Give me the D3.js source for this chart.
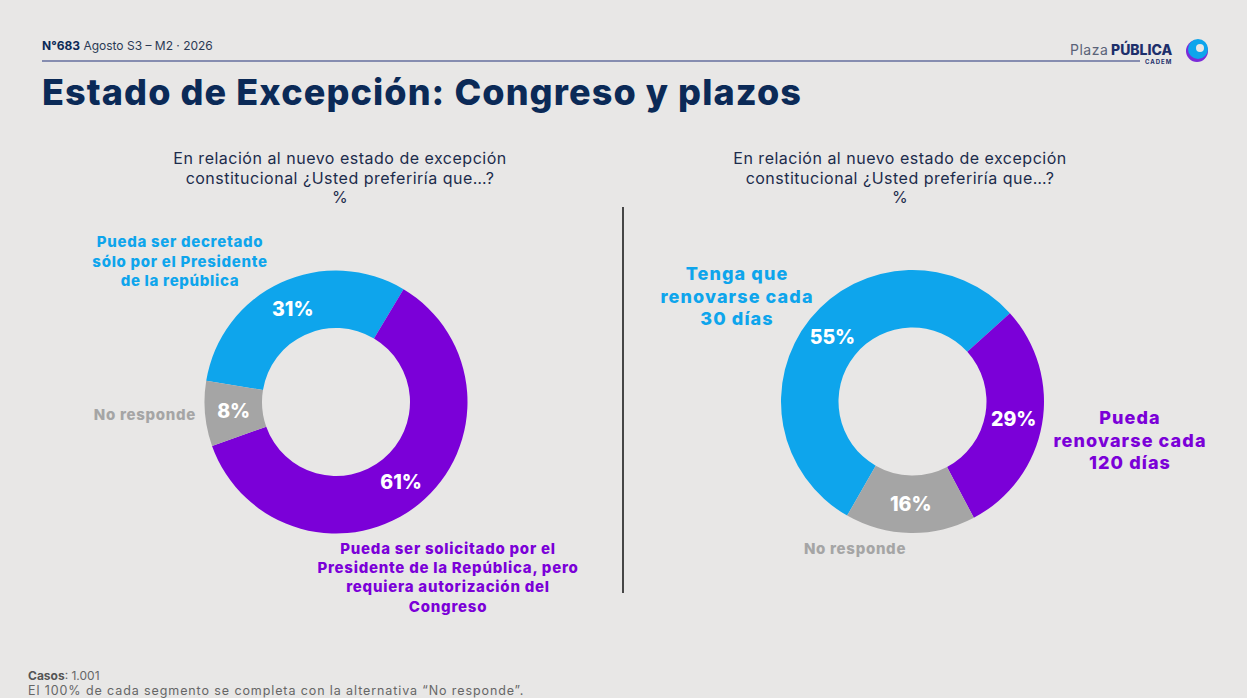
<!DOCTYPE html>
<html>
<head>
<meta charset="utf-8">
<script src="https://cdn.jsdelivr.net/npm/d3@7"></script>
<style>
html,body{margin:0;padding:0;background:#e8e7e6;}
svg{display:block;}
text{font-family:Inter,"Open Sans",sans-serif;}
</style>
</head>
<body>
<svg id="chart" width="1247" height="698"></svg>
<script>
// ---- Data ----
const leftCategories = ["Pueda ser decretado sólo por el Presidente de la república", "Pueda ser solicitado por el Presidente de la República, pero requiera autorización del Congreso", "No responde"];
const leftValues = [31, 61, 8];
const rightCategories = ["Tenga que renovarse cada 30 días", "Pueda renovarse cada 120 días", "No responde"];
const rightValues = [55, 29, 16];
const seriesColors = ["#0ea5ec", "#7b00d8", "#a5a5a5"];
const questionLines = ["En relación al nuevo estado de excepción", "constitucional ¿Usted preferiría que…?", "%"];

const svg = d3.select("#chart");
const navy = "#0b2a57";

// ---- Header ----
const hdr = svg.append("text").attr("x", 42).attr("y", 50).attr("font-size", 12).attr("fill", "#2b3a55");
hdr.append("tspan").attr("font-weight", 700).attr("fill", navy).text("N°683");
hdr.append("tspan").text(" Agosto S3 – M2 · 2026");

svg.append("line").attr("x1", 42).attr("x2", 1140).attr("y1", 61).attr("y2", 61)
  .attr("stroke", "#24347a").attr("stroke-width", 1.2);

svg.append("text").attr("x", 42).attr("y", 105).attr("font-size", 36).attr("font-weight", 800)
  .attr("fill", navy).attr("letter-spacing", 1.1).text("Estado de Excepción: Congreso y plazos");

// logo
const logo = svg.append("g");
logo.append("text").attr("x", 1070).attr("y", 55).attr("font-size", 14).attr("fill", "#5a6378").attr("letter-spacing", 0.5).text("Plaza");
logo.append("text").attr("x", 1111).attr("y", 55).attr("font-size", 14).attr("font-weight", 800).attr("fill", "#1d2f6b").text("PÚBLICA");
logo.append("text").attr("x", 1145).attr("y", 64).attr("font-size", 6).attr("font-weight", 700).attr("fill", "#1d2f6b").attr("letter-spacing", 1).text("CADEM");
logo.append("circle").attr("cx", 1197).attr("cy", 51).attr("r", 11).attr("fill", "#7b2bd8");
logo.append("circle").attr("cx", 1198).attr("cy", 49).attr("r", 10).attr("fill", "#0ea5ec");
logo.append("circle").attr("cx", 1200).attr("cy", 48).attr("r", 4).attr("fill", "#e8e7e6");

// divider
svg.append("line").attr("x1", 623).attr("x2", 623).attr("y1", 207).attr("y2", 593)
  .attr("stroke", "#111").attr("stroke-width", 1.5);

// ---- Donut drawer ----
function donut(cx, cy, values, startDeg, questionX) {
  const g = svg.append("g");
  const q = g.append("text").attr("text-anchor", "middle").attr("font-size", 16)
    .attr("letter-spacing", 0.5).attr("fill", "#1c2c4c");
  questionLines.forEach((l, i) => q.append("tspan").attr("x", questionX).attr("y", 164 + i * 19.5).text(l));

  const start = startDeg * Math.PI / 180;
  const pie = d3.pie().sort(null).value(d => d).startAngle(start).endAngle(start + 2 * Math.PI);
  const arc = d3.arc().innerRadius(74).outerRadius(131.5);
  const arcs = pie(values);
  const cg = g.append("g").attr("transform", `translate(${cx},${cy})`);
  cg.selectAll("path").data(arcs).join("path")
    .attr("d", arc).attr("fill", (d, i) => seriesColors[i]);
  cg.selectAll("text").data(arcs).join("text")
    .attr("transform", d => `translate(${arc.centroid(d)})`)
    .attr("text-anchor", "middle").attr("dy", "0.36em")
    .attr("font-size", 19.5).attr("font-weight", 800).attr("fill", "#fff")
    .text(d => d.data + "%");
}

function label(lines, x, y0, lh, size, color, ls) {
  const t = svg.append("text").attr("text-anchor", "middle").attr("font-size", size)
    .attr("font-weight", 800).attr("fill", color).attr("letter-spacing", ls);
  lines.forEach((l, i) => t.append("tspan").attr("x", x).attr("y", y0 + i * lh).text(l));
}

// left chart: blue starts at -80.7°
donut(336, 402, leftValues, -80.7, 340);
// right chart: blue starts at -150.2°
donut(912.5, 401.5, rightValues, -150.2, 900);

// category labels (text split into lines as shown)
label(["Pueda ser decretado", "sólo por el Presidente", "de la república"], 180, 247, 19.5, 15, seriesColors[0], 0.7);
label(["Pueda ser solicitado por el", "Presidente de la República, pero", "requiera autorización del", "Congreso"], 448, 554, 19.2, 15, seriesColors[1], 0.75);
svg.append("text").attr("x", 196).attr("y", 420).attr("text-anchor", "end").attr("font-size", 15)
  .attr("font-weight", 800).attr("letter-spacing", 0.7).attr("fill", seriesColors[2]).text(leftCategories[2]);

label(["Tenga que", "renovarse cada", "30 días"], 737, 280, 22.5, 18, seriesColors[0], 1.1);
label(["Pueda", "renovarse cada", "120 días"], 1130, 424, 22.5, 18, seriesColors[1], 1.1);
svg.append("text").attr("x", 855).attr("y", 554).attr("text-anchor", "middle").attr("font-size", 15)
  .attr("font-weight", 800).attr("letter-spacing", 0.7).attr("fill", seriesColors[2]).text(rightCategories[2]);

// ---- Footer ----
const f1 = svg.append("text").attr("x", 28).attr("y", 680).attr("font-size", 12).attr("fill", "#666");
f1.append("tspan").attr("font-weight", 700).attr("fill", "#555").text("Casos");
f1.append("tspan").text(": 1.001");
svg.append("text").attr("x", 28).attr("y", 695).attr("font-size", 12.5).attr("letter-spacing", 0.9).attr("fill", "#666")
  .text("El 100% de cada segmento se completa con la alternativa “No responde”.");
</script>
</body>
</html>
